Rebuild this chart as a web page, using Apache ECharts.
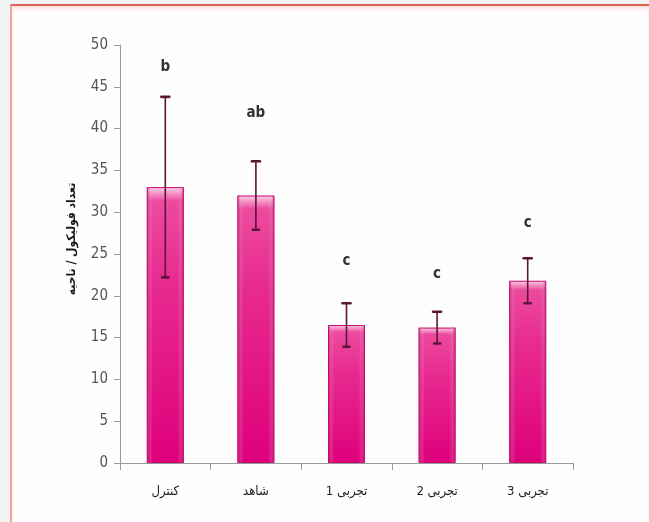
<!DOCTYPE html>
<html>
<head>
<meta charset="utf-8">
<script src="https://cdn.jsdelivr.net/npm/echarts@6/dist/echarts.min.js"></script>
<style>
  html, body { margin: 0; padding: 0; background: #f2f3f3; }
  #frame {
    position: absolute; left: 10px; top: 4px; width: 637px; height: 530px;
    background: #fefefe;
    border-top: 2px solid #d8604e;
    border-left: 2px solid #efa898;
    box-shadow: inset 0 3px 3px rgba(240,150,130,0.25);
  }
  #chart { position: absolute; left: 0; top: 0; width: 649px; height: 522px; }
</style>
</head>
<body>
<div id="frame"></div>
<div id="chart"></div>
<script>
// Groups on the x axis
const categories = ['کنترل', 'شاهد', 'تجربی 1', 'تجربی 2', 'تجربی 3'];
// Mean follicle counts per group
const means = [33, 32, 16.5, 16.2, 21.8];
// Standard deviation (half-length of each error bar)
const errors = [10.8, 4.1, 2.6, 1.9, 2.7];
// Significance letters and the height at which each is printed
const letters = ['b', 'ab', 'c', 'c', 'c'];
const letterHeights = [47.4, 41.9, 24.2, 22.6, 28.7];
// Y axis scale
const yMin = 0, yMax = 50, yStep = 5;
const yAxisTitle = 'تعداد فولیکول / ناحیه';

const errorData = means.map((m, i) => [i, m - errors[i], m + errors[i]]);
const letterData = letters.map((t, i) => [i, letterHeights[i], t]);

const chart = echarts.init(document.getElementById('chart'));
chart.setOption({
  animation: false,
  backgroundColor: 'transparent',
  grid: { left: 120, right: 76, top: 45, bottom: 59 },
  xAxis: {
    type: 'category',
    data: categories,
    axisLine: { lineStyle: { color: '#9a9a9a', width: 1 } },
    axisTick: { show: true, inside: false, length: 7, lineStyle: { color: '#9a9a9a' } },
    axisLabel: {
      margin: 22,
      color: '#222',
      fontSize: 13,
      fontFamily: 'DejaVu Sans Condensed, DejaVu Sans, sans-serif'
    }
  },
  yAxis: {
    type: 'value',
    min: yMin, max: yMax, interval: yStep,
    name: yAxisTitle,
    nameLocation: 'middle',
    nameRotate: 90,
    nameGap: 42,
    nameTextStyle: {
      color: '#1a1a1a', fontSize: 12, fontWeight: 'bold',
      fontFamily: 'DejaVu Sans Condensed, DejaVu Sans, sans-serif',
      padding: [0, 0, 0, 30]
    },
    splitLine: { show: false },
    axisLine: { show: true, lineStyle: { color: '#9a9a9a', width: 1 } },
    axisTick: { show: true, length: 6, lineStyle: { color: '#9a9a9a' } },
    axisLabel: {
      margin: 12,
      color: '#555',
      fontSize: 15,
      fontFamily: 'Liberation Sans Narrow, DejaVu Sans Condensed, sans-serif'
    }
  },
  series: [
    {
      // main bars with a glossy vertical fill
      type: 'bar',
      data: means,
      barWidth: 37,
      z: 2,
      itemStyle: {
        borderColor: '#c4006a',
        borderWidth: 1,
        color: new echarts.graphic.LinearGradient(0, 0, 0, 1, [
          { offset: 0, color: '#fbd3e7' },
          { offset: 0.02, color: '#f59ac8' },
          { offset: 0.05, color: '#ec4a9f' },
          { offset: 0.35, color: '#e72a90' },
          { offset: 1, color: '#de007a' }
        ])
      }
    },
    {
      // edge shading layered over the bars
      type: 'bar',
      data: means,
      barWidth: 37,
      barGap: '-100%',
      z: 3,
      silent: true,
      itemStyle: {
        color: new echarts.graphic.LinearGradient(0, 0, 1, 0, [
          { offset: 0, color: 'rgba(185,0,95,0.5)' },
          { offset: 0.16, color: 'rgba(255,255,255,0)' },
          { offset: 0.84, color: 'rgba(255,255,255,0)' },
          { offset: 1, color: 'rgba(185,0,95,0.5)' }
        ])
      }
    },
    {
      // error bars
      type: 'custom',
      z: 5,
      data: errorData,
      renderItem: function (params, api) {
        const x = api.value(0);
        const lo = api.coord([x, api.value(1)]);
        const hi = api.coord([x, api.value(2)]);
        const c = '#5a1634';
        return {
          type: 'group',
          children: [
            { type: 'line', shape: { x1: hi[0], y1: hi[1], x2: lo[0], y2: lo[1] },
              style: { stroke: c, lineWidth: 1.6 } },
            { type: 'line', shape: { x1: hi[0] - 4, y1: hi[1], x2: hi[0] + 4, y2: hi[1] },
              style: { stroke: c, lineWidth: 2.6, lineCap: 'round' } },
            { type: 'line', shape: { x1: lo[0] - 3, y1: lo[1], x2: lo[0] + 3, y2: lo[1] },
              style: { stroke: c, lineWidth: 2.6, lineCap: 'round' } }
          ]
        };
      }
    },
    {
      // significance letters
      type: 'custom',
      z: 6,
      data: letterData,
      renderItem: function (params, api) {
        const p = api.coord([api.value(0), api.value(1)]);
        return {
          type: 'text',
          style: {
            x: p[0], y: p[1],
            text: letters[params.dataIndex],
            align: 'center', verticalAlign: 'middle',
            fill: '#333',
            font: 'bold 15px "Liberation Sans Narrow", "DejaVu Sans Condensed", sans-serif'
          }
        };
      }
    }
  ]
});
</script>
</body>
</html>
